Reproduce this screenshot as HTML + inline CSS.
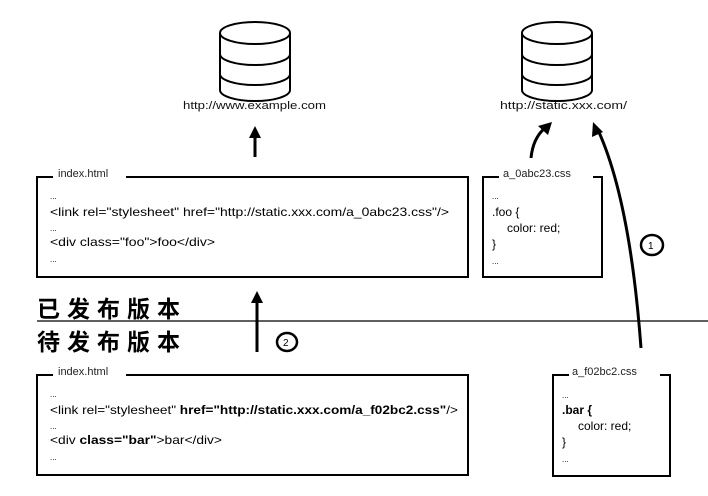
<!DOCTYPE html>
<html><head><meta charset="utf-8"><style>
html,body{margin:0;padding:0;background:#fff;}
svg{display:block;font-family:"Liberation Sans","Noto Sans CJK SC",sans-serif;}
</style></head><body>
<svg width="708" height="496" viewBox="0 0 708 496" xmlns="http://www.w3.org/2000/svg">
<defs>
<g id="db" fill="#fff" stroke="#000" stroke-width="2">
<path d="M-35,0 L-35,57 A35,11 0 0 0 35,57 L35,0"/>
<path d="M-35,21 A35,11 0 0 0 35,21" fill="none"/>
<path d="M-35,41 A35,11 0 0 0 35,41" fill="none"/>
<ellipse cx="0" cy="0" rx="35" ry="11"/>
</g>
</defs>
<use href="#db" x="255" y="33"/>
<use href="#db" x="557" y="33"/>
<g font-size="11" fill="#111">
<text x="183" y="109" textLength="143" lengthAdjust="spacingAndGlyphs">http://www.example.com</text>
<text x="500" y="109" textLength="127" lengthAdjust="spacingAndGlyphs">http://static.xxx.com/</text>
</g>
<g stroke="#000" stroke-width="3" fill="none">
<line x1="255" y1="157" x2="255" y2="135"/>
<line x1="257" y1="352" x2="257" y2="300"/>
<path d="M531,158 Q533,138 545,128"/>
<path d="M641,348 Q630,200 598,130"/>
</g>
<g fill="#000">
<polygon points="255,126 249,138 261,138"/>
<polygon points="257,291 251,303 263,303"/>
<polygon points="552,122 538,126 548,135"/>
<polygon points="593,122 592,137 603,132"/>
</g>
<g fill="none" stroke="#000">
<ellipse cx="287" cy="342" rx="10" ry="9" stroke-width="2.5"/>
<ellipse cx="652" cy="245" rx="11" ry="10" stroke-width="2.5"/>
</g>
<g font-size="10" fill="#000">
<text x="283" y="346">2</text>
<text x="648" y="249">1</text>
</g>
<g fill="none" stroke="#000" stroke-width="2">
<path d="M53,177 L37,177 L37,277 L468,277 L468,177 L126,177"/>
<path d="M499,177 L483,177 L483,277 L602,277 L602,177 L593,177"/>
<path d="M53,375 L37,375 L37,475 L468,475 L468,375 L126,375"/>
<path d="M569,375 L553,375 L553,476 L670,476 L670,375 L660,375"/>
</g>
<g font-size="11" fill="#222">
<text x="58" y="177">index.html</text>
<text x="503" y="177">a_0abc23.css</text>
<text x="58" y="375">index.html</text>
<text x="572" y="375">a_f02bc2.css</text>
</g>
<g font-size="12" fill="#000">
<text x="50" y="199" font-size="8">...</text>
<text x="50" y="216" textLength="399" lengthAdjust="spacingAndGlyphs">&lt;link rel="stylesheet" href="http://static.xxx.com/a_0abc23.css"/&gt;</text>
<text x="50" y="231" font-size="8">...</text>
<text x="50" y="246" textLength="165" lengthAdjust="spacingAndGlyphs">&lt;div class="foo"&gt;foo&lt;/div&gt;</text>
<text x="50" y="262" font-size="8">...</text>

<text x="492" y="199" font-size="8">...</text>
<text x="492" y="216">.foo {</text>
<text x="507" y="232">color: red;</text>
<text x="492" y="248">}</text>
<text x="492" y="264" font-size="8">...</text>

<text x="50" y="397" font-size="8">...</text>
<text x="50" y="414" textLength="408" lengthAdjust="spacingAndGlyphs">&lt;link rel="stylesheet" <tspan font-weight="bold">href="http://static.xxx.com/a_f02bc2.css"</tspan>/&gt;</text>
<text x="50" y="429" font-size="8">...</text>
<text x="50" y="444" textLength="172" lengthAdjust="spacingAndGlyphs">&lt;div <tspan font-weight="bold">class="bar"</tspan>&gt;bar&lt;/div&gt;</text>
<text x="50" y="460" font-size="8">...</text>

<text x="562" y="398" font-size="8">...</text>
<text x="562" y="414" font-weight="bold">.bar {</text>
<text x="578" y="430">color: red;</text>
<text x="562" y="446">}</text>
<text x="562" y="462" font-size="8">...</text>
</g>
<line x1="37" y1="321" x2="708" y2="321" stroke="#000" stroke-width="1.2"/>
<g font-size="23" fill="#000" font-weight="bold">
<text x="37" y="317" textLength="143" lengthAdjust="spacing">已发布版本</text>
<text x="37" y="350" textLength="143" lengthAdjust="spacing">待发布版本</text>
</g>
</svg>
</body></html>
